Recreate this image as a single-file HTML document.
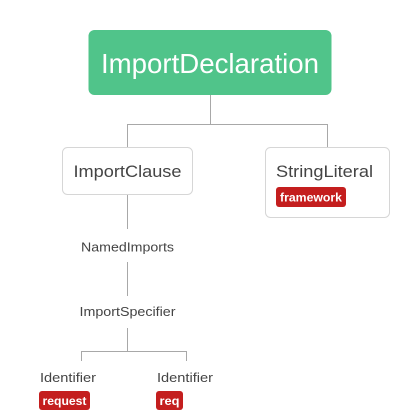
<!DOCTYPE html>
<html><head><style>html,body{margin:0;padding:0;background:#fff;}svg{display:block}</style></head>
<body>
<svg width="420" height="420" xmlns="http://www.w3.org/2000/svg" font-family="Liberation Sans, sans-serif">
<g stroke="#a8a8a8" stroke-width="1" fill="none">
<path d="M210.5 95V124.5M127.5 147V124.5H327.5V147"/>
<path d="M127.5 194V229M127.5 262V296M127.5 328V351.5M81.5 361V351.5H186.5V361"/>
</g>
<rect x="88.5" y="30" width="243" height="65" rx="6" fill="#50c48a"/>
<text x="210" y="73" font-size="28" fill="#fff" text-anchor="middle" textLength="218" lengthAdjust="spacingAndGlyphs">ImportDeclaration</text>
<rect x="62.5" y="147.5" width="130" height="47" rx="5" fill="#fff" stroke="#d6d6d6"/>
<text x="127.5" y="177" font-size="17" fill="#444" text-anchor="middle" textLength="108" lengthAdjust="spacingAndGlyphs">ImportClause</text>
<rect x="265.5" y="147.5" width="124" height="70" rx="5" fill="#fff" stroke="#d6d6d6"/>
<text x="276" y="177" font-size="17" fill="#444" textLength="97" lengthAdjust="spacingAndGlyphs">StringLiteral</text>
<rect x="276" y="187" width="70" height="20" rx="3" fill="#c41e1e"/>
<text x="311" y="201.5" font-size="12" font-weight="bold" fill="#fff" text-anchor="middle" textLength="62" lengthAdjust="spacingAndGlyphs">framework</text>
<text x="127.5" y="251.5" font-size="13" fill="#444" text-anchor="middle" textLength="93" lengthAdjust="spacingAndGlyphs">NamedImports</text>
<text x="127.5" y="316" font-size="13" fill="#444" text-anchor="middle" textLength="96" lengthAdjust="spacingAndGlyphs">ImportSpecifier</text>
<text x="40" y="382" font-size="13" fill="#444" textLength="56" lengthAdjust="spacingAndGlyphs">Identifier</text>
<text x="157" y="382" font-size="13" fill="#444" textLength="56" lengthAdjust="spacingAndGlyphs">Identifier</text>
<rect x="39" y="391" width="51" height="19" rx="3" fill="#c41e1e"/>
<text x="64.5" y="405" font-size="12" font-weight="bold" fill="#fff" text-anchor="middle" textLength="44" lengthAdjust="spacingAndGlyphs">request</text>
<rect x="156" y="391" width="27" height="19" rx="3" fill="#c41e1e"/>
<text x="169.5" y="405" font-size="12" font-weight="bold" fill="#fff" text-anchor="middle" textLength="20" lengthAdjust="spacingAndGlyphs">req</text>
</svg>
</body></html>
